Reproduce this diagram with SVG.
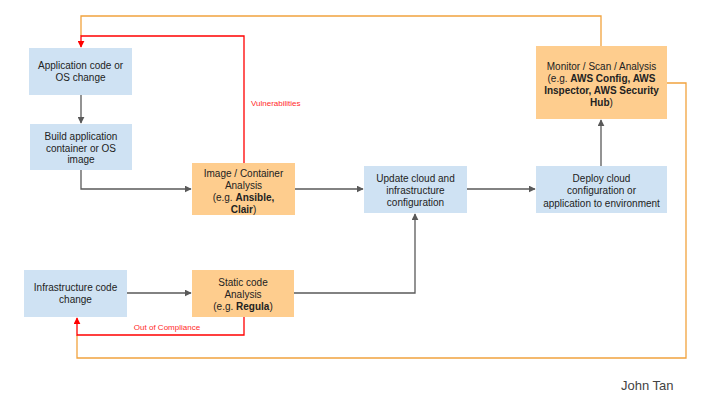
<svg xmlns="http://www.w3.org/2000/svg" width="720" height="405" viewBox="0 0 720 405">
<defs>
<style>
.blue{fill:#cfe2f3}
.orange{fill:#fecd8e}
.t{font-family:"Liberation Sans",Arial,sans-serif;font-size:10px;fill:#222;text-anchor:middle}
.b{font-weight:bold}
.g{fill:none;stroke:#595959;stroke-width:1.3}
.r{fill:none;stroke:#ff0000;stroke-width:1.3}
.o{fill:none;stroke:#f1a33e;stroke-width:1.3}
.lbl{font-family:"Liberation Sans",Arial,sans-serif;font-size:8px;fill:#ff2a2a}
</style>
<marker id="ag" viewBox="0 0 10 10" refX="9" refY="5" markerWidth="7" markerHeight="7" markerUnits="userSpaceOnUse" orient="auto"><path d="M0,0 L10,5 L0,10 z" fill="#595959"/></marker>
<marker id="ar" viewBox="0 0 10 10" refX="9" refY="5" markerWidth="7" markerHeight="7" markerUnits="userSpaceOnUse" orient="auto"><path d="M0,0 L10,5 L0,10 z" fill="#ff0000"/></marker>
</defs>
<rect width="720" height="405" fill="#fff"/>
<g id="connectors">
<path class="o" d="M601,46 V16 H81 V36"/>
<path class="o" d="M667,83 H686 V358 H77 V335"/>
<path class="r" d="M244,163 V36 H81 V47" marker-end="url(#ar)"/>
<path class="r" d="M244,317 V335 H77 V318" marker-end="url(#ar)"/>
<path class="g" d="M81,95 V123" marker-end="url(#ag)"/>
<path class="g" d="M81,170 V189 H191" marker-end="url(#ag)"/>
<path class="g" d="M295,189 H363" marker-end="url(#ag)"/>
<path class="g" d="M467,189 H535" marker-end="url(#ag)"/>
<path class="g" d="M601,166 V120" marker-end="url(#ag)"/>
<path class="g" d="M127,293 H191" marker-end="url(#ag)"/>
<path class="g" d="M294,293 H415 V214" marker-end="url(#ag)"/>
<text class="lbl" x="251" y="106">Vulnerabilities</text>
<text class="lbl" x="167" y="330" text-anchor="middle">Out of Compliance</text>
</g>
<g id="app-change">
<rect class="blue" x="29" y="48" width="103" height="47"/>
<text class="t" x="80.5" y="69">Application code or</text>
<text class="t" x="80.5" y="81">OS change</text>
</g>
<g id="build-image">
<rect class="blue" x="30" y="124" width="102" height="46"/>
<text class="t" x="81" y="139.5">Build application</text>
<text class="t" x="81" y="151.5">container or OS</text>
<text class="t" x="81" y="163">image</text>
</g>
<g id="image-analysis">
<rect class="orange" x="192" y="163" width="103" height="52"/>
<text class="t" x="243.5" y="176.5">Image / Container</text>
<text class="t" x="243.5" y="188.5">Analysis</text>
<text class="t" x="243.5" y="200.5">(e.g. <tspan class="b">Ansible,</tspan></text>
<text class="t" x="243.5" y="212.5"><tspan class="b">Clair</tspan>)</text>
</g>
<g id="update-cloud">
<rect class="blue" x="364" y="166" width="103" height="47"/>
<text class="t" x="415.5" y="181.5">Update cloud and</text>
<text class="t" x="415.5" y="193.5">infrastructure</text>
<text class="t" x="415.5" y="205.5">configuration</text>
</g>
<g id="deploy">
<rect class="blue" x="536" y="166" width="131" height="47"/>
<text class="t" x="601.5" y="181.5">Deploy cloud</text>
<text class="t" x="601.5" y="194">configuration or</text>
<text class="t" x="601.5" y="206.5">application to environment</text>
</g>
<g id="monitor">
<rect class="orange" x="536" y="46" width="131" height="73"/>
<text class="t" x="601.5" y="69.5">Monitor / Scan / Analysis</text>
<text class="t" x="601.5" y="81.5">(e.g. <tspan class="b">AWS Config, AWS</tspan></text>
<text class="t b" x="601.5" y="93.5">Inspector, AWS Security</text>
<text class="t" x="601.5" y="105.5"><tspan class="b">Hub</tspan>)</text>
</g>
<g id="infra-change">
<rect class="blue" x="24" y="270" width="103" height="47"/>
<text class="t" x="75.5" y="290.5">Infrastructure code</text>
<text class="t" x="75.5" y="303">change</text>
</g>
<g id="static-analysis">
<rect class="orange" x="192" y="270" width="102" height="47"/>
<text class="t" x="243" y="285.5">Static code</text>
<text class="t" x="243" y="297.5">Analysis</text>
<text class="t" x="243" y="309.5">(e.g. <tspan class="b">Regula</tspan>)</text>
</g>
<text x="621" y="390" font-family="'Liberation Sans',Arial,sans-serif" font-size="13" fill="#434343">John Tan</text>
</svg>
